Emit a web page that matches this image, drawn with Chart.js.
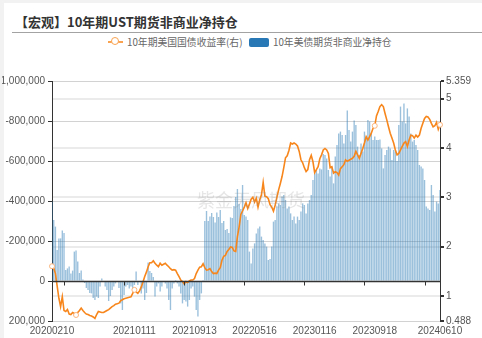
<!DOCTYPE html>
<html>
<head>
<meta charset="utf-8">
<script src="https://cdn.jsdelivr.net/npm/chart.js@4.4.1/dist/chart.umd.min.js"></script>
<style>
  body { margin: 0; width: 482px; height: 338px; overflow: hidden; background: #f2f2f2; position: relative; font-family: "Noto Sans CJK SC", sans-serif; }
  #panel { position: absolute; left: 4px; top: 3px; width: 478px; height: 335px; background: #fff; overflow: hidden; }
  #title { position: absolute; left: 11px; top: 9px; font-size: 13px; font-weight: bold; color: #333; line-height: 20px; white-space: nowrap; }
  #rule { position: absolute; left: 8px; right: 0; top: 29px; height: 1px; background: #a3a3a3; }
  .lg-text { position: absolute; top: 33px; font-size: 9.8px; line-height: 12px; color: #666; white-space: nowrap; }
  #lg-line { position: absolute; left: 104px; top: 38px; width: 15px; height: 1.5px; background: #f9a24f; }
  #lg-dot { position: absolute; left: 107px; top: 34px; width: 6px; height: 6px; border: 1.5px solid #f9a24f; border-radius: 50%; background: #fff; }
  #lg-box { position: absolute; left: 245px; top: 35px; width: 20px; height: 9px; border-radius: 2px; background: #2878b5; }
  #wrap { position: absolute; left: 0; top: 55px; width: 482px; height: 283px; clip-path: inset(0 0 0 2.5px); }
</style>
</head>
<body>
<div id="panel">
  <div id="title">【宏观】10年期UST期货非商业净持仓</div>
  <div id="rule"></div>
  <div id="lg-line"></div><div id="lg-dot"></div>
  <div class="lg-text" style="left:123px">10年期美国国债收益率(右)</div>
  <div id="lg-box"></div>
  <div class="lg-text" style="left:269px">10年美债期货非商业净持仓</div>
</div>
<div id="wrap"><canvas id="chart" width="482" height="283"></canvas></div>
<script>
// 周度数据：起始日期与期数
const START_DATE = '2020-02-10';
const WEEK_COUNT = 227;

// x轴显示标签的位置、零轴刻度位置
const LABEL_INDEX = [0, 48, 83, 118, 153, 188, 226];
const TICK_INDEX = [7, 42, 77, 112, 147, 182, 217];
// 折线上显示空心点的位置
const MARKER_INDEX = [0, 14, 48, 188, 226];

const WATERMARK = '紫金天风期货';

// 10年美债期货非商业净持仓（张）
const netPosition = [
  -397000, -305000, -272000, -155000, -213000, -213000, -252000, -240000, -55000, -63000,
  -72000, -38000, -52000, -147000, -152000, -97000, -40000, -52000, -8000, 10000,
  35000, 45000, 60000, 62000, 85000, 95000, 78000, 85000, 28000, -13000,
  5000, 28000, 45000, 100000, 75000, 45000, 28000, 12000, 5000, 35000,
  112000, 145000, 70000, 28000, 20000, 37000, 28000, 45000, 20000, -47000,
  20000, 5000, 62000, 37000, 95000, 60000, -92000, -50000, -40000, -20000,
  78000, 28000, 12000, 53000, 28000, 3000, 12000, 37000, 95000, 145000,
  37000, 12000, -5000, 12000, 28000, 62000, 112000, 95000, 103000, 128000,
  95000, 37000, 28000, 78000, 145000, 178000, 95000, 62000, -5000, -300000,
  -350000, -300000, -322000, -340000, -320000, -292000, -342000, -320000, -355000, -290000,
  -300000, -255000, -260000, -240000, -318000, -315000, -375000, -420000, -460000, -385000,
  -360000, -480000, -330000, -322000, -305000, -147000, -88000, -163000, -188000, -238000,
  -263000, -272000, -222000, -205000, -188000, -172000, -105000, -110000, -172000, -297000,
  -305000, -372000, -388000, -380000, -422000, -430000, -405000, -363000, -372000, -338000,
  -305000, -322000, -288000, -322000, -305000, -347000, -388000, -380000, -338000, -388000,
  -405000, -430000, -505000, -538000, -555000, -538000, -563000, -558000, -635000, -630000,
  -613000, -555000, -522000, -572000, -488000, -622000, -680000, -738000, -747000, -730000,
  -688000, -730000, -852000, -755000, -697000, -747000, -802000, -780000, -672000, -630000,
  -688000, -647000, -747000, -722000, -805000, -797000, -738000, -705000, -722000, -705000,
  -705000, -708000, -663000, -563000, -630000, -655000, -672000, -663000, -605000, -655000,
  -647000, -600000, -780000, -872000, -797000, -888000, -788000, -863000, -822000, -738000,
  -697000, -705000, -680000, -655000, -580000, -572000, -563000, -505000, -372000, -363000,
  -355000, -480000, -430000, -347000, -397000, -388000, -455000
];

// 10年期美国国债收益率（%）
const ustYield = [
  1.60, 1.56, 1.45, 1.20, 0.95, 0.78, 0.98, 0.70, 0.68, 0.72,
  0.63, 0.62, 0.66, 0.64, 0.61, 0.66, 0.70, 0.75, 0.70, 0.66,
  0.63, 0.62, 0.60, 0.59, 0.57, 0.54, 0.62, 0.68, 0.67, 0.66,
  0.66, 0.68, 0.70, 0.72, 0.75, 0.78, 0.80, 0.83, 0.84, 0.85,
  0.90, 0.92, 0.94, 0.95, 0.96, 0.97, 0.98, 1.05, 1.12, 1.08,
  1.05, 1.10, 1.18, 1.28, 1.39, 1.48, 1.59, 1.67, 1.67, 1.71,
  1.66, 1.62, 1.59, 1.66, 1.62, 1.64, 1.66, 1.62, 1.59, 1.55,
  1.52, 1.53, 1.52, 1.45, 1.39, 1.32, 1.29, 1.24, 1.29, 1.27,
  1.30, 1.32, 1.32, 1.35, 1.45, 1.52, 1.58, 1.59, 1.65, 1.57,
  1.52, 1.53, 1.55, 1.49, 1.45, 1.46, 1.45, 1.52, 1.57, 1.72,
  1.80, 1.82, 1.90, 1.94, 1.99, 1.98, 1.91, 1.90, 2.20, 2.40,
  2.65, 2.72, 2.80, 2.89, 2.77, 2.86, 2.96, 3.00, 2.90, 2.98,
  2.80, 2.95, 3.05, 3.30, 3.02, 3.01, 2.97, 2.85, 2.80, 2.72,
  2.84, 3.00, 3.15, 3.28, 3.42, 3.60, 3.80, 3.84, 3.95, 4.10,
  4.08, 4.10, 4.08, 4.04, 3.93, 3.76, 3.70, 3.60, 3.52, 3.56,
  3.76, 3.85, 3.72, 3.50, 3.56, 3.62, 3.78, 3.86, 3.96, 3.99,
  3.96, 3.89, 3.60, 3.62, 3.49, 3.52, 3.50, 3.45, 3.58, 3.62,
  3.66, 3.76, 3.73, 3.75, 3.77, 3.79, 3.83, 3.93, 3.86, 3.79,
  3.89, 3.99, 4.10, 4.23, 4.16, 4.23, 4.30, 4.40, 4.45, 4.65,
  4.74, 4.84, 4.88, 4.84, 4.70, 4.57, 4.43, 4.30, 4.20, 4.10,
  3.96, 3.86, 3.89, 3.96, 4.03, 4.10, 4.13, 4.03, 4.16, 4.26,
  4.25, 4.20, 4.26, 4.22, 4.26, 4.40, 4.50, 4.60, 4.64, 4.63,
  4.58, 4.50, 4.43, 4.45, 4.52, 4.38, 4.47
];

// 右轴刻度
const RIGHT_TICKS = [0.488, 1, 2, 3, 4, 5, 5.359];

// 日期 -> YYYYMMDD
function formatDate(d) {
  const y = d.getUTCFullYear();
  const m = String(d.getUTCMonth() + 1).padStart(2, '0');
  const day = String(d.getUTCDate()).padStart(2, '0');
  return `${y}${m}${day}`;
}

// 周度日期标签
function buildWeekLabels(start, count) {
  const base = new Date(start + 'T00:00:00Z');
  const labels = [];
  for (let i = 0; i < count; i++) {
    labels.push(formatDate(new Date(base.getTime() + i * 7 * 86400000)));
  }
  return labels;
}

const labels = buildWeekLabels(START_DATE, WEEK_COUNT);

// 零轴、刻度与水印
const zeroAxisPlugin = {
  id: 'zeroAxis',
  afterDatasetsDraw(chart) {
    const { ctx, chartArea, scales } = chart;
    const y0 = Math.round(scales.y.getPixelForValue(0)) + 0.5;
    ctx.save();
    ctx.font = '18px "Noto Sans CJK SC"';
    ctx.fillStyle = 'rgba(140,140,140,0.22)';
    ctx.textAlign = 'center';
    ctx.textBaseline = 'middle';
    ctx.fillText(WATERMARK, 251, 145);

    ctx.strokeStyle = '#333';
    ctx.lineWidth = 1.5;
    ctx.beginPath();
    ctx.moveTo(chartArea.left, y0);
    ctx.lineTo(chartArea.right, y0);
    ctx.stroke();
    ctx.lineWidth = 1;
    TICK_INDEX.forEach(i => {
      const x = Math.round(scales.x.getPixelForValue(i)) + 0.5;
      ctx.beginPath();
      ctx.moveTo(x, y0);
      ctx.lineTo(x, y0 + 4);
      ctx.stroke();
    });
    ctx.restore();
  }
};

const tickFont = { family: 'Liberation Sans', size: 10 };

new Chart(document.getElementById('chart'), {
  data: {
    labels,
    datasets: [
      {
        type: 'line',
        label: '10年期美国国债收益率(右)',
        data: ustYield,
        yAxisID: 'y1',
        borderColor: '#f7861c',
        borderWidth: 1.6,
        pointRadius: ctx => MARKER_INDEX.includes(ctx.dataIndex) ? 2.5 : 0,
        pointBackgroundColor: '#fff',
        pointBorderColor: '#fbb47c',
        pointBorderWidth: 1,
        tension: 0,
        order: 0,
      },
      {
        type: 'bar',
        label: '10年美债期货非商业净持仓',
        data: netPosition,
        yAxisID: 'y',
        backgroundColor: 'rgba(44,123,182,0.48)',
        categoryPercentage: 1,
        barPercentage: 0.8,
        order: 1,
      },
    ],
  },
  options: {
    responsive: false,
    animation: false,
    layout: { padding: { left: 0, right: 0, top: 26, bottom: 0 } },
    plugins: { legend: { display: false }, tooltip: { enabled: false } },
    scales: {
      x: {
        type: 'category',
        offset: false,
        grid: { display: false, drawTicks: false },
        border: { display: false },
        ticks: {
          autoSkip: false,
          maxRotation: 0,
          minRotation: 0,
          padding: 4,
          color: '#555',
          font: tickFont,
          callback: (v, i) => LABEL_INDEX.includes(i) ? labels[i] : null,
        },
        afterFit: s => { s.height = 17; },
      },
      y: {
        position: 'left',
        reverse: true,
        min: -1000000,
        max: 200000,
        ticks: {
          stepSize: 200000,
          padding: 3,
          color: '#555',
          font: tickFont,
          callback: v => v.toLocaleString('en-US'),
        },
        grid: {
          color: c => c.tick && c.tick.value === 0 ? 'rgba(0,0,0,0)' : '#d2d2d2',
          tickColor: '#333',
          tickLength: 4,
        },
        border: { color: '#333' },
        afterFit: s => { s.width = 52; },
      },
      y1: {
        position: 'right',
        min: 0.488,
        max: 5.359,
        afterBuildTicks: s => { s.ticks = RIGHT_TICKS.map(v => ({ value: v })); },
        ticks: {
          padding: 2,
          color: '#555',
          font: tickFont,
          callback: v => String(v),
        },
        grid: {
          color: c => c.tick && (c.tick.value === 0.488 || c.tick.value === 5.359) ? 'rgba(0,0,0,0)' : '#ebebeb',
          lineWidth: 2,
          tickColor: '#333',
          tickLength: 4,
        },
        border: { color: '#333' },
        afterFit: s => { s.width = 42; },
      },
    },
  },
  plugins: [zeroAxisPlugin],
});
</script>
</body>
</html>
